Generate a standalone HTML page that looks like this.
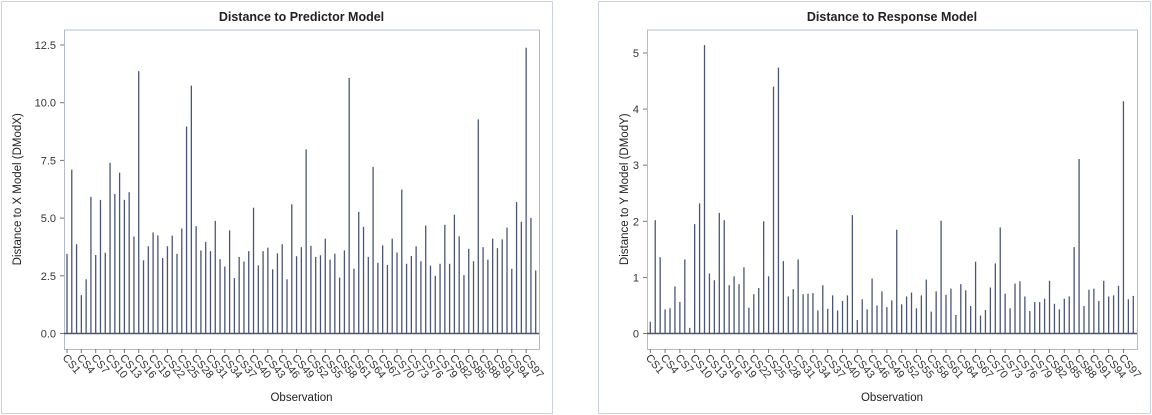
<!DOCTYPE html>
<html><head><meta charset="utf-8">
<style>
html,body{margin:0;padding:0;background:#fff;}
svg{display:block;font-family:"Liberation Sans",sans-serif;}
</style></head>
<body>
<svg id="chart" width="1152" height="415" viewBox="0 0 1152 415" xmlns="http://www.w3.org/2000/svg">
<rect x="1.5" y="1.5" width="551" height="412" fill="#fff" stroke="#ccd3de"/>
<rect x="598.5" y="1.5" width="552" height="412" fill="#fff" stroke="#ccd3de"/>
<g id="left"></g>
<g id="right"></g>
</svg>
<script>
const predictorValues = [3.45,7.1,3.87,1.66,2.35,5.92,3.4,5.79,3.5,7.4,6.05,6.97,5.79,6.12,4.2,11.37,3.17,3.78,4.38,4.25,3.27,3.78,4.24,3.45,4.55,8.97,10.74,4.65,3.6,3.97,3.57,4.88,3.22,2.9,4.47,2.4,3.32,3.12,3.57,5.45,2.95,3.57,3.72,2.78,3.47,3.87,2.35,5.6,
3.35,3.74,7.98,3.8,3.32,3.39,4.11,3.2,3.46,2.42,3.6,11.07,2.81,5.27,4.62,3.32,7.22,3.06,3.82,2.97,4.11,3.51,6.24,3.02,3.36,3.78,3.13,4.68,2.94,2.5,3.02,4.71,3.02,5.15,4.21,2.53,3.67,3.13,9.28,3.74,3.2,4.11,3.7,4.08,4.59,2.8,5.69,4.84,12.38,5.01,2.73];
const responseValues = [0.21,2.02,1.36,0.43,0.45,0.84,0.56,1.32,0.1,1.95,2.32,5.14,1.07,0.95,2.15,2.02,0.86,1.02,0.88,1.18,0.46,0.7,0.81,2.0,1.02,4.4,4.74,1.29,0.66,0.79,1.32,0.7,0.71,0.72,0.41,0.86,0.44,0.68,0.41,0.58,0.68,2.11,0.24,0.61,0.43,0.98,0.5,
0.75,0.47,0.59,1.85,0.52,0.66,0.73,0.45,0.68,0.96,0.39,0.75,2.01,0.69,0.8,0.33,0.88,0.77,0.49,1.28,0.32,0.42,0.82,1.25,1.89,0.71,0.45,0.89,0.93,0.66,0.4,0.56,0.56,0.62,0.94,0.53,0.43,0.62,0.66,1.54,3.11,0.49,0.78,0.8,0.58,0.94,0.66,0.68,0.85,4.14,0.61,0.67];
const categories = predictorValues.map((v,i)=>'CS'+(i+1));
const predictorTicks = [0,2.5,5,7.5,10,12.5];
const predictorTickLabels = ['0.0','2.5','5.0','7.5','10.0','12.5'];
const responseTicks = [0,1,2,3,4,5];
const responseTickLabels = ['0','1','2','3','4','5'];

const NS='http://www.w3.org/2000/svg';
function mk(parent,tag,attrs,text){const e=document.createElementNS(NS,tag);for(const k in attrs)e.setAttribute(k,attrs[k]);if(text!==undefined)e.textContent=text;parent.appendChild(e);return e;}

function drawChart(g,cfg){
  const {fx0,fx1,fy0,fy1,x1,xN,y0px,yTopPx,yTopVal,values,ticks,tickLabels,title,ytitle,ytitleX,tickLabelX,prefix}=cfg;
  const n=values.length;
  const xs=i=>x1+(xN-x1)*i/(n-1);
  const ys=v=>y0px-(y0px-yTopPx)*v/yTopVal;
  const t=mk(g,'text',{x:(fx0+fx1)/2,y:21,'text-anchor':'middle','font-size':'12.5','font-weight':'bold',fill:'#222'},title);
  
  
  const fr=mk(g,'rect',{x:fx0+.5,y:fy0+.5,width:fx1-fx0,height:fy1-fy0,fill:'none',stroke:'#b4bccb'});
  
  
  ticks.forEach((tv,i)=>{
    const y=ys(tv);
    mk(g,'line',{x1:fx0-4,x2:fx0,y1:y,y2:y,stroke:'#777'});
    const l=mk(g,'text',{x:tickLabelX,y:y+4,'text-anchor':'end','font-size':'11',fill:'#333'},tickLabels[i]);
    
    
  });
  const base=mk(g,'line',{x1:fx0,x2:fx1,y1:ys(0),y2:ys(0),stroke:'#4a5673','stroke-width':1.5});
  
  
  values.forEach((v,i)=>{
    const b=mk(g,'line',{x1:xs(i),x2:xs(i),y1:ys(0),y2:ys(v),stroke:'#4a5673','stroke-width':1.3});
    
    
  });
  for(let i=0;i<n;i+=3){
    const x=xs(i);
    mk(g,'line',{x1:x,x2:x,y1:fy1,y2:fy1+4,stroke:'#777'});
    const l=mk(g,'text',{x:0,y:0,'font-size':'11',fill:'#333',transform:`translate(${x-5},${fy1+9}) rotate(50)`},categories[i]);
    
    
  }
  const xt=mk(g,'text',{x:(fx0+fx1)/2,y:401,'text-anchor':'middle','font-size':'11.5',fill:'#222'},'Observation');
  
  
  const cy=(fy0+fy1)/2;
  const yt=mk(g,'text',{x:0,y:0,'text-anchor':'middle','font-size':'11.5',fill:'#222',transform:`translate(${ytitleX},${cy}) rotate(-90)`},ytitle);
  
  
}
drawChart(document.getElementById('left'),{fx0:64,fx1:539,fy0:29.5,fy1:349,x1:67,xN:535.7,y0px:333.5,yTopPx:45,yTopVal:12.5,values:predictorValues,ticks:predictorTicks,tickLabels:predictorTickLabels,title:'Distance to Predictor Model',ytitle:'Distance to X Model (DModX)',ytitleX:21,tickLabelX:56,prefix:'predictor'});
drawChart(document.getElementById('right'),{fx0:647,fx1:1137,fy0:29.5,fy1:349,x1:650.3,xN:1133.3,y0px:333.5,yTopPx:53,yTopVal:5,values:responseValues,ticks:responseTicks,tickLabels:responseTickLabels,title:'Distance to Response Model',ytitle:'Distance to Y Model (DModY)',ytitleX:628,tickLabelX:639,prefix:'response'});
</script>
</body></html>
